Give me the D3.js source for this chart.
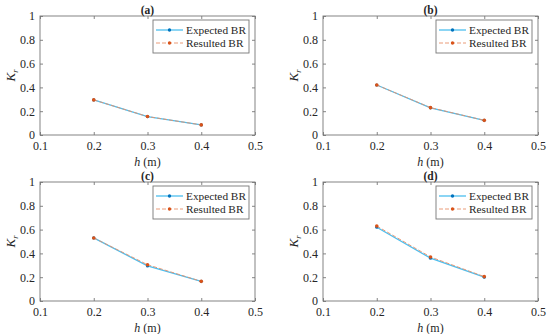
<!DOCTYPE html>
<html>
<head>
<meta charset="utf-8">
<script src="https://cdn.jsdelivr.net/npm/d3@7"></script>
<style>
body { margin: 0; background: #fff; }
text { font-family: "Liberation Serif", "Times New Roman", serif; fill: #262626; }
</style>
</head>
<body>
<div id="chart"></div>
<script>
// data
var hValues = [0.2, 0.3, 0.4];
var panelTitles = ['(a)', '(b)', '(c)', '(d)'];
var expectedBR = [
	[0.295, 0.155, 0.085],
	[0.420, 0.228, 0.123],
	[0.530, 0.295, 0.165],
	[0.620, 0.360, 0.200]
];
var resultedBR = [
	[0.295, 0.155, 0.085],
	[0.420, 0.230, 0.123],
	[0.530, 0.305, 0.165],
	[0.630, 0.370, 0.205]
];
var xTicks = [0.1, 0.2, 0.3, 0.4, 0.5];
var yTicks = [0, 0.2, 0.4, 0.6, 0.8, 1];
var seriesNames = ['Expected BR', 'Resulted BR'];

var width = 550, height = 334;
var svg = d3.select('#chart').append('svg')
	.attr('width', width)
	.attr('height', height);

// panel frames: left, top offsets
var panels = [
	{ x: 40, y: 16 },
	{ x: 323, y: 16 },
	{ x: 40, y: 182 },
	{ x: 323, y: 182 }
];
var pw = 215, ph = 119;
var serif = '"Liberation Serif", "Times New Roman", serif';

var axisCol = '#777';
var blueLine = '#4dbeee', blueDot = '#0072bd';
var orangeLine = '#e8906a', orangeDot = '#d95319';

panels.forEach(function(p, i) {
	var g = svg.append('g').attr('transform', 'translate(' + p.x + ',' + p.y + ')');
	var x = d3.scaleLinear().domain([0.1, 0.5]).range([0, pw]);
	var y = d3.scaleLinear().domain([0, 1]).range([ph, 0]);

	// box
	g.append('rect')
		.attr('width', pw).attr('height', ph)
		.attr('fill', 'none').attr('stroke', axisCol).attr('stroke-width', 0.9);

	var xAxis = g.append('g').attr('transform', 'translate(0,' + ph + ')')
		.call(d3.axisBottom(x).tickValues(xTicks).tickSize(-3).tickPadding(6).tickFormat(d3.format('.1f')));
	var xTop = g.append('g')
		.call(d3.axisTop(x).tickValues(xTicks).tickSize(-3).tickFormat(''));
	var yAxis = g.append('g')
		.call(d3.axisLeft(y).tickValues(yTicks).tickSize(-3).tickPadding(5).tickFormat(function(d) { return d === 0 || d === 1 ? d : d3.format('.1f')(d); }));
	var yRight = g.append('g').attr('transform', 'translate(' + pw + ',0)')
		.call(d3.axisRight(y).tickValues(yTicks).tickSize(-3).tickFormat(''));

	[xAxis, xTop, yAxis, yRight].forEach(function(a) {
		a.attr('font-family', serif).attr('font-size', 12);
		a.select('.domain').remove();
		a.selectAll('line').attr('stroke', axisCol).attr('stroke-width', 0.9);
		a.selectAll('text').attr('fill', '#262626');
	});

	// title
	g.append('text')
		.attr('x', pw / 2).attr('y', -2)
		.attr('text-anchor', 'middle')
		.attr('font-family', serif)
		.style('font-size', '11.5px').style('font-weight', 'bold')
		.text(panelTitles[i]);

	// axis labels
	var xl = g.append('text')
		.attr('x', pw / 2).attr('y', ph + 31)
		.attr('text-anchor', 'middle')
		.attr('font-family', serif)
		.style('font-size', '12px');
	xl.append('tspan').style('font-style', 'italic').text('h');
	xl.append('tspan').text(' (m)');

	var yl = g.append('text')
		.attr('transform', 'translate(-25,' + (ph / 2) + ') rotate(-90)')
		.attr('text-anchor', 'middle')
		.attr('font-family', serif)
		.style('font-size', '13px').style('font-style', 'italic');
	yl.append('tspan').text('K');
	yl.append('tspan').attr('dy', 3).style('font-size', '8px').text('r');

	var line = d3.line()
		.x(function(d, k) { return x(hValues[k]); })
		.y(function(d) { return y(d); });

	g.append('path').datum(expectedBR[i])
		.attr('d', line).attr('fill', 'none')
		.attr('stroke', blueLine).attr('stroke-width', 1.3);
	g.selectAll('.dotE').data(expectedBR[i]).enter().append('circle')
		.attr('cx', function(d, k) { return x(hValues[k]); })
		.attr('cy', function(d) { return y(d); })
		.attr('r', 1.6).attr('fill', blueDot);

	g.append('path').datum(resultedBR[i])
		.attr('d', line).attr('fill', 'none')
		.attr('stroke', orangeLine).attr('stroke-width', 0.9)
		.attr('stroke-dasharray', '4,2');
	g.selectAll('.dotR').data(resultedBR[i]).enter().append('circle')
		.attr('cx', function(d, k) { return x(hValues[k]); })
		.attr('cy', function(d) { return y(d); })
		.attr('r', 1.8).attr('fill', orangeDot);

	// legend
	var lg = g.append('g').attr('transform', 'translate(113,4)');
	lg.append('rect')
		.attr('width', 96).attr('height', 33)
		.attr('fill', '#fff').attr('stroke', axisCol).attr('stroke-width', 0.9);
	seriesNames.forEach(function(name, k) {
		var yy = 10 + k * 13;
		lg.append('line')
			.attr('x1', 3).attr('x2', 30).attr('y1', yy).attr('y2', yy)
			.attr('stroke', k === 0 ? blueLine : orangeLine)
			.attr('stroke-width', k === 0 ? 1.3 : 0.9)
			.attr('stroke-dasharray', k === 0 ? null : '4,2');
		lg.append('circle')
			.attr('cx', 16.5).attr('cy', yy).attr('r', 1.7)
			.attr('fill', k === 0 ? blueDot : orangeDot);
		lg.append('text')
			.attr('x', 33).attr('y', yy + 4)
			.attr('font-family', serif)
			.style('font-size', '11.3px')
			.text(name);
	});
});
</script>
</body>
</html>
